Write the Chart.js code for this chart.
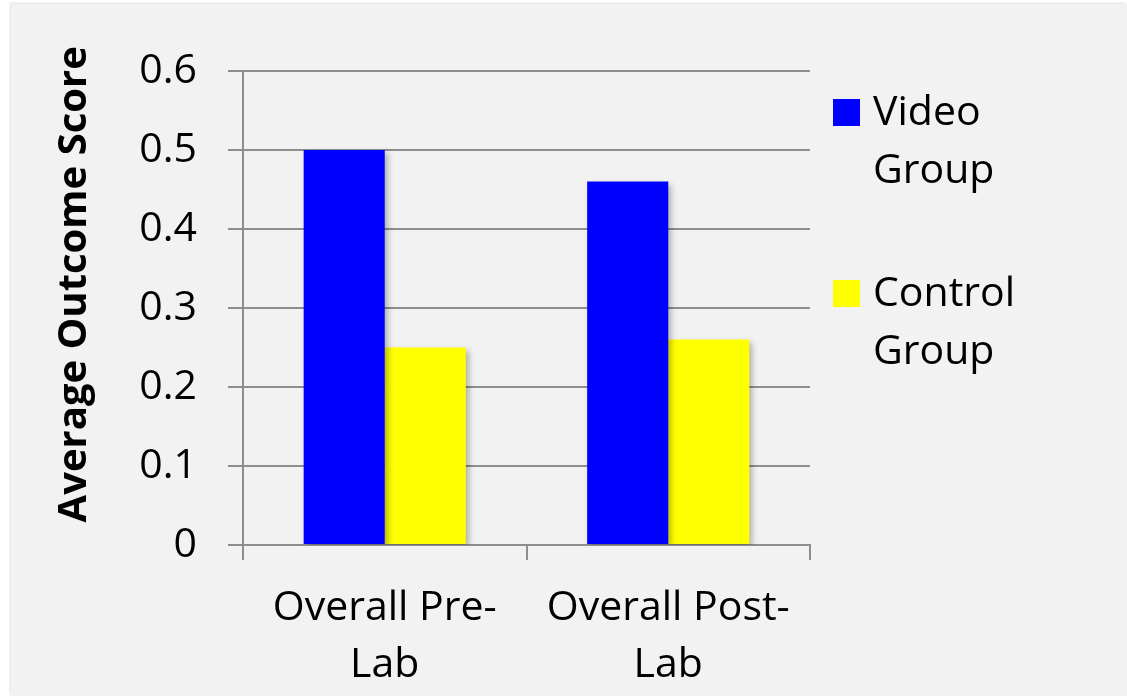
<!DOCTYPE html>
<html>
<head>
<meta charset="utf-8">
<script src="https://cdn.jsdelivr.net/npm/chart.js@4.4.1/dist/chart.umd.min.js"></script>
<style>
  body { margin: 0; background: #ffffff; }
  #panel {
    position: absolute; left: 11px; top: 4px; width: 1116px; height: 692px;
    background: #f2f2f2; box-shadow: -1px -1px 2px rgba(0, 0, 0, 0.12);
  }
  #scoreChart { position: absolute; left: 0; top: 0; }
</style>
</head>
<body>
<div id="panel"></div>
<canvas id="scoreChart" width="1127" height="696"></canvas>
<script>
// Chart data
const categories = [['Overall Pre-', 'Lab'], ['Overall Post-', 'Lab']]
const seriesNames = ['Video Group', 'Control Group']
const videoScores = [0.5, 0.46]
const controlScores = [0.25, 0.26]
const yTicks = [0, 0.1, 0.2, 0.3, 0.4, 0.5, 0.6]
const yTitle = 'Average Outcome Score'

const FONT = '"Open Sans", "Noto Sans", sans-serif'
const gridColor = '#8e8e8e'

// Soft drop shadow behind the bars
const barShadow = {
  id: 'barShadow',
  beforeDatasetsDraw(chart) {
    const c = chart.ctx
    c.save()
    c.shadowColor = 'rgba(0, 0, 0, 0.28)'
    c.shadowBlur = 6
    c.shadowOffsetX = 3
    c.shadowOffsetY = 3
  },
  afterDatasetsDraw(chart) {
    chart.ctx.restore()
  }
}

// Rotated y axis title, sitting a bit above the middle like the original
const axisTitle = {
  id: 'axisTitle',
  afterDraw(chart) {
    const { ctx: c, chartArea } = chart
    const cy = chartArea.top + (chartArea.bottom - chartArea.top) * 0.45
    c.save()
    c.translate(75, cy)
    c.rotate(-Math.PI / 2)
    c.font = `bold 40px ${FONT}`
    c.fillStyle = '#000000'
    c.textAlign = 'center'
    c.textBaseline = 'middle'
    c.fillText(yTitle, 0, 0)
    c.restore()
  }
}

// Legend on the right, two-line entries
const sideLegend = {
  id: 'sideLegend',
  afterDraw(chart) {
    const { ctx: c, chartArea } = chart
    const boxX = chartArea.right + 23
    const textX = chartArea.right + 63
    c.save()
    c.font = `41px ${FONT}`
    c.textBaseline = 'alphabetic'
    c.textAlign = 'left'
    chart.data.datasets.forEach((ds, i) => {
      const base = chartArea.top + 54 + i * 181
      c.fillStyle = ds.backgroundColor
      c.fillRect(boxX, base - 26, 27, 27)
      c.fillStyle = '#000000'
      ds.label.split(' ').forEach((word, j) => {
        c.fillText(word, textX, base + j * 58)
      })
    })
    c.restore()
  }
}

new Chart(document.getElementById('scoreChart'), {
  type: 'bar',
  data: {
    labels: categories,
    datasets: [
      {
        label: seriesNames[0],
        data: videoScores,
        backgroundColor: '#0000ff',
        categoryPercentage: 0.572,
        barPercentage: 1
      },
      {
        label: seriesNames[1],
        data: controlScores,
        backgroundColor: '#ffff00',
        categoryPercentage: 0.572,
        barPercentage: 1
      }
    ]
  },
  options: {
    responsive: false,
    animation: false,
    layout: {
      padding: { top: 71, right: 317, left: 0, bottom: 0 }
    },
    plugins: {
      legend: { display: false },
      tooltip: { enabled: false }
    },
    scales: {
      x: {
        offset: true,
        afterFit(scale) {
          scale.height = 151
        },
        grid: {
          offset: true,
          drawOnChartArea: false,
          drawTicks: true,
          tickLength: 15,
          color: gridColor,
          lineWidth: 2
        },
        border: { color: gridColor, width: 2 },
        ticks: {
          color: '#000000',
          padding: 20,
          maxRotation: 0,
          font: { family: FONT, size: 41, lineHeight: 1.39 }
        }
      },
      y: {
        min: 0,
        max: 0.6,
        afterFit(scale) {
          scale.width = 243
        },
        afterBuildTicks(scale) {
          scale.ticks = yTicks.map((v) => ({ value: v }))
        },
        grid: {
          color: gridColor,
          lineWidth: 2,
          tickLength: 15
        },
        border: { color: gridColor, width: 2 },
        ticks: {
          color: '#000000',
          padding: 31,
          callback: (v) => String(v),
          font: { family: FONT, size: 41 }
        }
      }
    }
  },
  plugins: [barShadow, axisTitle, sideLegend]
})
</script>
</body>
</html>
